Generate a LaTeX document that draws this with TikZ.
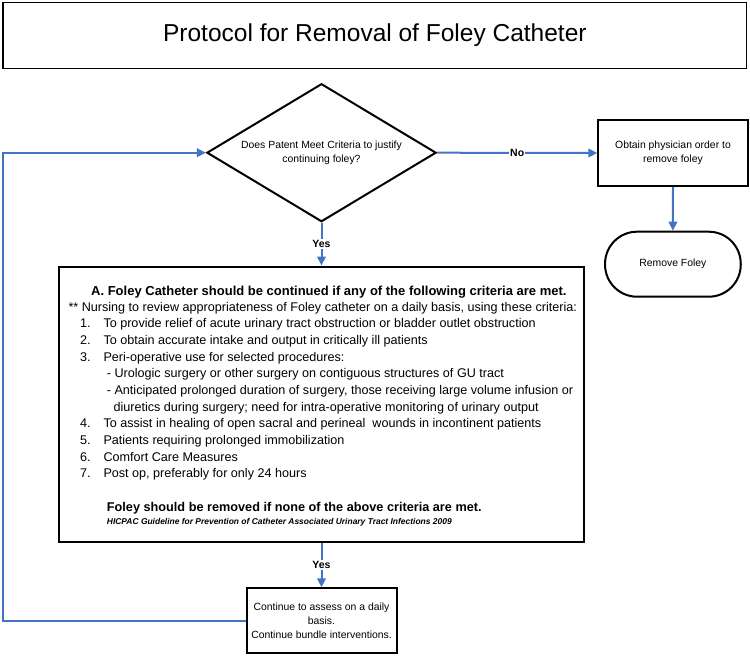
\documentclass[tikz,border=0pt]{standalone}
\usepackage{fontspec}
\setmainfont{Liberation Sans}
\usetikzlibrary{shapes.geometric,arrows.meta}
\definecolor{flowblue}{RGB}{68,114,196}
\begin{document}
\begin{tikzpicture}[x=1pt,y=-1pt,
  boxstyle/.style={draw=black,line width=2pt,rectangle,inner sep=2pt,align=center},
  smalltext/.style={font=\fontsize{10.4}{14}\selectfont},
  flow/.style={draw=flowblue,line width=2pt,-{Triangle[length=9pt,width=8.5pt]}},
  lbl/.style={fill=white,inner sep=1pt,font=\bfseries\fontsize{10.5}{12}\selectfont},
  txt/.style={anchor=base west,inner sep=0pt,font=\fontsize{12.6}{15}\selectfont},
  btxt/.style={anchor=base west,inner sep=0pt,font=\bfseries\fontsize{13}{15}\selectfont},
  ctxt/.style={anchor=base west,inner sep=0pt,font=\bfseries\itshape\fontsize{8.45}{10}\selectfont}
]
\useasboundingbox (0,0) rectangle (750,657);

% title
\node[boxstyle,line width=1.5pt,minimum width=743.7pt,minimum height=65.6pt,
      font=\fontsize{24.5}{28}\selectfont] (title) at (374.85,35.5)
      {Protocol for Removal of Foley Catheter};

% decision
\node[draw=black,line width=2pt,diamond,minimum width=229.3pt,minimum height=138pt,
      inner sep=0pt,aspect=1.66,align=center,smalltext] (dia) at (321.5,152.7)
      {Does Patent Meet Criteria to justify\\continuing foley?};

% physician order
\node[boxstyle,minimum width=149.4pt,minimum height=66pt,smalltext] (order) at (673,153)
      {Obtain physician order to\\remove foley};

% remove foley terminal
\node[draw=black,line width=2pt,rectangle,rounded corners=32pt,minimum width=135.7pt,
      minimum height=65pt,smalltext] (remove) at (672.9,264.2) {Remove Foley};

% criteria box
\node[boxstyle,minimum width=524.3pt,minimum height=275.2pt] (crit) at (321.5,404.1) {};

\node[btxt] (l0) at (91,295.2) {A. Foley Catheter should be continued if any of the following criteria are met.};
\node[txt] (l1) at (68.3,311.8) {** Nursing to review appropriateness of Foley catheter on a daily basis, using these criteria:};
\node[txt] (n1) at (80,327.8) {1.};
\node[txt] (t1) at (103.3,327.8) {To provide relief of acute urinary tract obstruction or bladder outlet obstruction};
\node[txt] (n2) at (80,344.5) {2.};
\node[txt] (t2) at (103.3,344.5) {To obtain accurate intake and output in critically ill patients};
\node[txt] (n3) at (80,361.2) {3.};
\node[txt] (t3) at (103.3,361.2) {Peri-operative use for selected procedures:};
\node[txt] (t3a) at (106.7,377.8) {- Urologic surgery or other surgery on contiguous structures of GU tract};
\node[txt] (t3b) at (106.7,394.5) {- Anticipated prolonged duration of surgery, those receiving large volume infusion or};
\node[txt] (t3c) at (113.3,411.2) {diuretics during surgery; need for intra-operative monitoring of urinary output};
\node[txt] (n4) at (80,427.8) {4.};
\node[txt] (t4) at (103.3,427.8) {To assist in healing of open sacral and perineal\ \ wounds in incontinent patients};
\node[txt] (n5) at (80,444.5) {5.};
\node[txt] (t5) at (103.3,444.5) {Patients requiring prolonged immobilization};
\node[txt] (n6) at (80,461) {6.};
\node[txt] (t6) at (103.3,461) {Comfort Care Measures};
\node[txt] (n7) at (80,477.8) {7.};
\node[txt] (t7) at (103.3,477.8) {Post op, preferably for only 24 hours};
\node[btxt,font=\bfseries\fontsize{12.7}{15}\selectfont] (rem) at (106.7,511.2) {Foley should be removed if none of the above criteria are met.};
\node[ctxt] (cite) at (106.7,524) {HICPAC Guideline for Prevention of Catheter Associated Urinary Tract Infections 2009};

% continue box
\node[boxstyle,minimum width=150pt,minimum height=65pt,smalltext] (cont) at (321.5,620.8)
      {Continue to assess on a daily\\basis.\\Continue bundle interventions.};

% connectors
\coordinate (lx) at (3,0);
\draw[flow] (cont.west) -- (cont.west -| lx) |- (dia.west);
\draw[flow] (dia.east) -- node[lbl] (no) {No} (order.west);
\draw[flow] (order.south) -- (remove.north);
\draw[flow] (dia.south) -- node[lbl] (yes1) {Yes} (crit.north);
\draw[flow] (crit.south) -- node[lbl] (yes2) {Yes} (cont.north);
\end{tikzpicture}
\end{document}
